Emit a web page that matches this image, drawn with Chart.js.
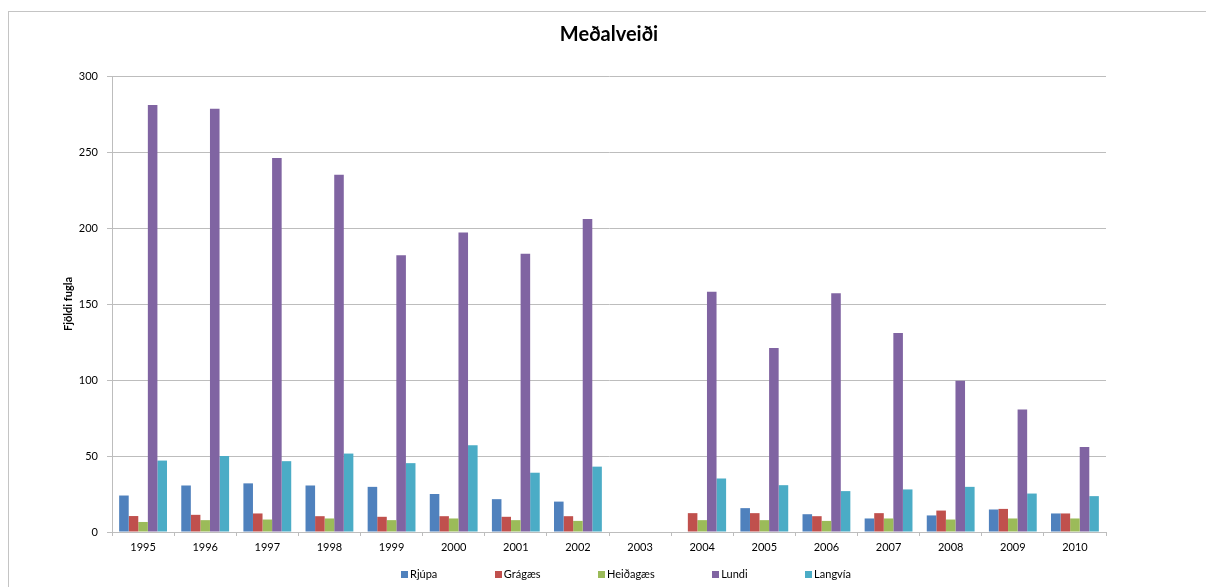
<!DOCTYPE html>
<html>
<head>
<meta charset="utf-8">
<title>Meðalveiði</title>
<script src="https://cdn.jsdelivr.net/npm/chart.js@4/dist/chart.umd.min.js"></script>
<style>
  html, body { margin: 0; padding: 0; background: #ffffff; }
  #wrap { width: 1206px; height: 587px; position: relative; }
</style>
</head>
<body>
<div id="wrap"><canvas id="chart" width="1206" height="587"></canvas></div>
<script>
// Average catch per hunter, by year and species
const years = ['1995', '1996', '1997', '1998', '1999', '2000', '2001', '2002',
               '2003', '2004', '2005', '2006', '2007', '2008', '2009', '2010'];

const rjupa    = [24, 30.6, 32, 30.6, 29.7, 25, 21.6, 20, null, null, 15.7, 11.7, 8.9, 10.9, 14.8, 12.2];
const gragaes  = [10.5, 11.3, 12.2, 10.4, 10, 10.4, 10, 10.4, null, 12.4, 12.4, 10.4, 12.4, 14.1, 15.2, 12.2];
const heidagaes = [6.6, 7.8, 8.2, 8.9, 7.8, 8.9, 7.8, 7.3, null, 7.8, 7.8, 7.3, 8.9, 8.2, 8.9, 8.9];
const lundi    = [281, 278.5, 246, 235, 182, 197, 183, 206, null, 158, 121, 157, 131, 99.5, 80.6, 56];
const langvia  = [47, 50, 46.6, 51.6, 45.3, 57, 39, 43, null, 35.2, 30.8, 26.9, 28, 29.7, 25.3, 23.6];

const seriesNames = ['Rjúpa', 'Grágæs', 'Heiðagæs', 'Lundi', 'Langvía'];
const seriesColors = ['#4F81BD', '#C0504D', '#9BBB59', '#8064A2', '#4BACC6'];
const seriesValues = [rjupa, gragaes, heidagaes, lundi, langvia];

const yTicks = [0, 50, 100, 150, 200, 250, 300];

const FONT = 'Lato, "Liberation Sans", sans-serif';
const GRID = '#bdbdbd';

// White background and the outer chart frame
const framePlugin = {
  id: 'frame',
  beforeDraw(chart) {
    const ctx = chart.ctx;
    ctx.save();
    ctx.fillStyle = '#ffffff';
    ctx.fillRect(0, 0, chart.width, chart.height);
    ctx.strokeStyle = '#c4c4c4';
    ctx.lineWidth = 1;
    ctx.strokeRect(8.5, 11.5, chart.width + 20, chart.height + 20);
    ctx.restore();
  }
};

// Legend row under the axis: small square swatches with a fixed gap between items
const rowLegendPlugin = {
  id: 'rowLegend',
  afterDraw(chart, args, opts) {
    const ctx = chart.ctx;
    const items = chart.data.datasets.map(ds => ({ text: ds.label, color: ds.backgroundColor }));
    ctx.save();
    ctx.font = opts.font;
    ctx.textBaseline = 'middle';
    ctx.textAlign = 'left';
    const widths = items.map(it => opts.box + opts.boxGap + ctx.measureText(it.text).width);
    const total = widths.reduce((a, b) => a + b, 0) + opts.itemGap * (items.length - 1);
    let x = opts.centerX - total / 2;
    const y = opts.y;
    items.forEach((it, i) => {
      ctx.fillStyle = it.color;
      ctx.fillRect(Math.round(x), Math.round(y - opts.box / 2), opts.box, opts.box);
      ctx.fillStyle = '#000000';
      ctx.fillText(it.text, x + opts.box + opts.boxGap, y + 0.5);
      x += widths[i] + opts.itemGap;
    });
    ctx.restore();
  }
};

new Chart(document.getElementById('chart'), {
  type: 'bar',
  data: {
    labels: years,
    datasets: seriesNames.map((name, i) => ({
      label: name,
      data: seriesValues[i],
      backgroundColor: seriesColors[i],
      borderWidth: 0,
      barPercentage: 1.0,
      categoryPercentage: 0.77
    }))
  },
  options: {
    responsive: false,
    animation: false,
    devicePixelRatio: 1,
    layout: { padding: { left: 0, right: 100, top: 0, bottom: 30 } },
    plugins: {
      legend: { display: false },
      tooltip: { enabled: false },
      title: {
        display: true,
        text: 'Meðalveiði',
        color: '#000000',
        fullSize: false,
        font: { family: FONT, size: 20, weight: 'bold', lineHeight: 1.2 },
        padding: { top: 23, bottom: 29 }
      },
      rowLegend: {
        font: '11px ' + FONT,
        box: 7,
        boxGap: 2,
        itemGap: 57.5,
        centerX: 626,
        y: 574
      }
    },
    scales: {
      x: {
        grid: {
          display: true,
          drawOnChartArea: false,
          drawTicks: true,
          tickLength: 4,
          color: GRID,
          offset: true
        },
        border: { display: true, color: GRID, width: 1 },
        ticks: {
          color: '#000000',
          font: { family: FONT, size: 11 },
          padding: 5,
          maxRotation: 0,
          autoSkip: false
        },
        afterFit(scale) { scale.height = 25; }
      },
      y: {
        min: 0,
        max: 300,
        afterBuildTicks(scale) { scale.ticks = yTicks.map(v => ({ value: v })); },
        grid: {
          color: GRID,
          drawTicks: true,
          tickLength: 5,
          lineWidth: 1
        },
        border: { display: true, color: GRID, width: 1 },
        ticks: {
          color: '#000000',
          font: { family: FONT, size: 11 },
          padding: 9
        },
        title: {
          display: true,
          text: 'Fjöldi fugla',
          color: '#000000',
          font: { family: FONT, size: 11, weight: 'bold', lineHeight: 1.2 },
          padding: { top: 62, bottom: 0 }
        },
        afterFit(scale) { scale.width = 112; }
      }
    }
  },
  plugins: [framePlugin, rowLegendPlugin]
});
</script>
</body>
</html>
